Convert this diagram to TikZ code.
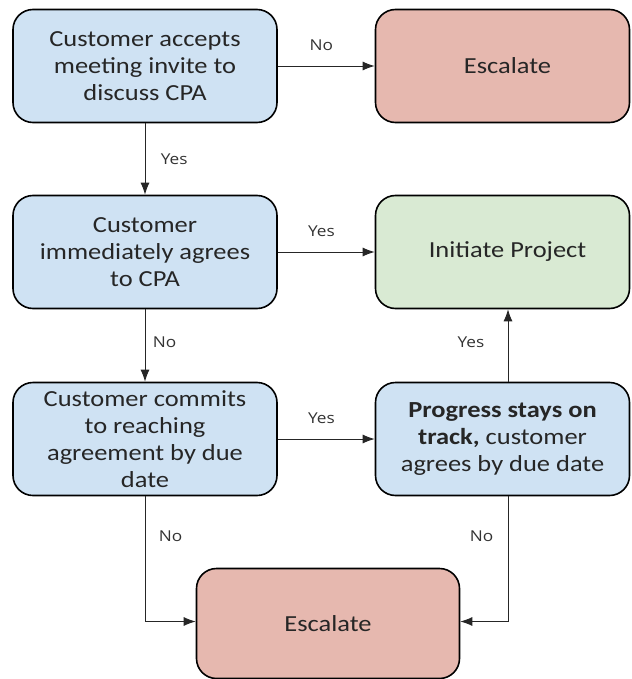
\documentclass[tikz,border=0pt]{standalone}
\usepackage{fontspec}
\setmainfont{Carlito}[FakeStretch=1.15]
\newfontfamily\answerfont{Open Sans}[FakeStretch=1.15]
\usepackage{tikz}
\usetikzlibrary{arrows.meta, positioning}
\usepackage{xcolor}
\definecolor{stepblue}{RGB}{207,226,243}
\definecolor{escred}{RGB}{230,184,175}
\definecolor{gogreen}{RGB}{217,234,211}
\tikzstyle{decision} = [rectangle, rounded corners=20pt, minimum width=264pt, minimum height=113pt, inner sep=2pt, text centered, align=center, draw=black, line width=1.6pt, fill=stepblue, text=black!85, font=\fontsize{23}{27}\selectfont]
\tikzstyle{arrow} = [line width=0.9pt, draw=black!85, -{Latex[length=12pt, width=9pt]}]
\tikzstyle{answer} = [text=black!80, font=\answerfont\fontsize{15}{18}\selectfont]

\begin{document}
\begin{tikzpicture}[x=1pt, y=-1pt]

\useasboundingbox (0,0) rectangle (631,679);

% Nodes
\node (accept) [decision] at (145,66) {Customer accepts\\meeting invite to\\discuss CPA};
\node (escalatetop) [decision, fill=escred, minimum width=254pt] at (502.5,66) {\hspace{10pt}Escalate};
\node (agree) [decision] at (145,252) {Customer\\immediately agrees\\to CPA};
\node (initiate) [decision, fill=gogreen, minimum width=254pt] at (502.5,252) {\hspace{10pt}Initiate Project};
\node (commit) [decision] at (145,439) {Customer commits\\to reaching\\agreement by due\\date};
\node (ontrack) [decision, minimum width=254pt] at (502.5,439) {\textbf{Progress stays on}\\\textbf{track,} customer\\agrees by due date};
\node (escalate) [decision, fill=escred, minimum width=263pt, minimum height=110pt] at (328,623.5) {Escalate};

% Arrows
\draw [arrow] (accept) -- node[answer, above=12pt, pos=0.45] {No} (escalatetop);
\draw [arrow] (accept) -- node[answer, right=12pt] {Yes} (agree);
\draw [arrow] (agree) -- node[answer, above=12pt, pos=0.45] {Yes} (initiate);
\draw [arrow] (agree) -- node[answer, right=4pt, pos=0.45] {No} (commit);
\draw [arrow] (commit) -- node[answer, above=12pt, pos=0.45] {Yes} (ontrack);
\draw [arrow] ([xshift=5.5pt]ontrack.north) -- node[answer, left=20pt, pos=0.55] {Yes} ([xshift=5.5pt]initiate.south);
\draw [arrow] (commit.south) |- node[answer, right=10pt, pos=0.16] {No} ([yshift=2pt]escalate.west);
\draw [arrow] ([xshift=5.5pt]ontrack.south) |- node[answer, left=11pt, pos=0.16] {No} ([yshift=2pt]escalate.east);

\end{tikzpicture}
\end{document}
